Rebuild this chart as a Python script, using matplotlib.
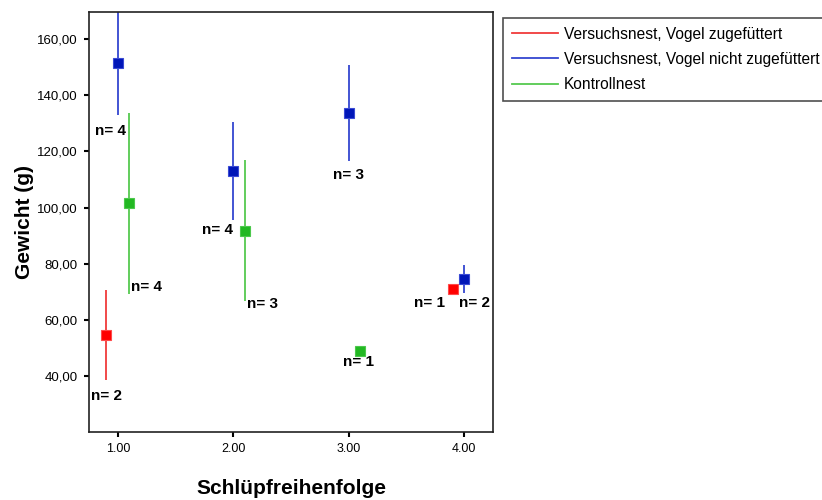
import matplotlib
matplotlib.use("Agg")
import matplotlib.pyplot as plt
from matplotlib.ticker import FuncFormatter

plt.rcParams["font.family"] = ["Liberation Sans", "DejaVu Sans"]

# Group names (legend entries)
groups = ["Versuchsnest, Vogel zugefüttert",
          "Versuchsnest, Vogel nicht zugefüttert",
          "Kontrollnest"]

# Versuchsnest, Vogel zugefüttert
fed_order = [1, 4]
fed_mean = [54.5, 70.9]
fed_err = [16.0, 0.0]
fed_n = [2, 1]

# Versuchsnest, Vogel nicht zugefüttert
unfed_order = [1, 2, 3, 4]
unfed_mean = [151.4, 113.0, 133.8, 74.4]
unfed_err = [18.4, 17.5, 17.1, 5.0]
unfed_n = [4, 4, 3, 2]

# Kontrollnest
ctrl_order = [1, 2, 3]
ctrl_mean = [101.5, 91.7, 49.0]
ctrl_err = [32.3, 25.1, 0.0]
ctrl_n = [4, 3, 1]

x_ticks = [1, 2, 3, 4]
y_ticks = [40, 60, 80, 100, 120, 140, 160]

series = [
    (fed_order, fed_mean, fed_err, fed_n),
    (unfed_order, unfed_mean, unfed_err, unfed_n),
    (ctrl_order, ctrl_mean, ctrl_err, ctrl_n),
]

# drawing styles per group: dodge offset, line colour, marker face, marker edge
styles = [
    (-0.1, "#f03a3a", "#ff0000", "#ff4a4a"),
    (0.0, "#3446d0", "#0016b8", "#3a4ad4"),
    (0.1, "#55c94f", "#22b822", "#4cc84c"),
]

# n-label placement per group point: (dx px, dy px, ha)
label_place = [
    [(0, -16, "center"), (-8, -14, "right")],
    [(-7, -16, "center"), (0, -10, "right"), (0, -14, "center"), (-5, -10, "left")],
    [(2, 7, "left"), (2, -3, "left"), (-2, -11, "center")],
]

fig = plt.figure(figsize=(8.22, 5.0), dpi=100)
ax = fig.add_axes([89 / 822, 68 / 500, 404 / 822, 420 / 500])

handles = []
for (order, mean, err, ns), (dx, lc, mf, me), places, name in zip(
        series, styles, label_place, groups):
    xs = [o + dx for o in order]
    ax.errorbar(xs, mean, yerr=err, fmt="none", ecolor=lc, elinewidth=1.3,
                capsize=0, zorder=2)
    ax.plot(xs, mean, linestyle="none", marker="s", markersize=7.5,
            markerfacecolor=mf, markeredgecolor=me, markeredgewidth=0.8,
            zorder=3)
    h, = ax.plot([], [], color=lc, lw=1.3, label=name)
    handles.append(h)
    for x, m, e, n, (ox, oy, ha) in zip(xs, mean, err, ns, places):
        ax.annotate(f"n= {n}", xy=(x, m - e), xytext=(ox, oy),
                    textcoords="offset pixels", ha=ha, va="center",
                    fontsize=11, fontweight="bold", color="black",
                    annotation_clip=False, zorder=4)

ax.set_xlim(0.75, 4.25)
ax.set_ylim(20.1, 169.6)
ax.set_xticks(x_ticks)
ax.set_yticks(y_ticks)
ax.xaxis.set_major_formatter(FuncFormatter(lambda v, p: f"{v:.2f}"))
ax.yaxis.set_major_formatter(
    FuncFormatter(lambda v, p: f"{v:.2f}".replace(".", ",")))
ax.tick_params(axis="both", direction="out", length=3.6, width=1.5,
               color="black", pad=4.5)
ax.tick_params(axis="y", labelsize=9.5)
ax.tick_params(axis="x", labelsize=9)

for sp in ax.spines.values():
    sp.set_color("#222222")
    sp.set_linewidth(1.2)

ax.set_xlabel("Schlüpfreihenfolge", fontsize=15, fontweight="bold",
              labelpad=17)
ax.set_ylabel("Gewicht (g)", fontsize=15, fontweight="bold", labelpad=2.5)

leg = fig.legend(handles=handles, loc="upper left",
                 bbox_to_anchor=(503 / 822, 1 - 18 / 500),
                 bbox_transform=fig.transFigure, borderaxespad=0,
                 fontsize=11.2, frameon=True, fancybox=False, shadow=False,
                 handlelength=3.0, handletextpad=0.35, labelspacing=0.66,
                 borderpad=0.55)
leg.get_frame().set_edgecolor("#222222")
leg.get_frame().set_linewidth(1.2)

fig.savefig("out.png", dpi=100)
